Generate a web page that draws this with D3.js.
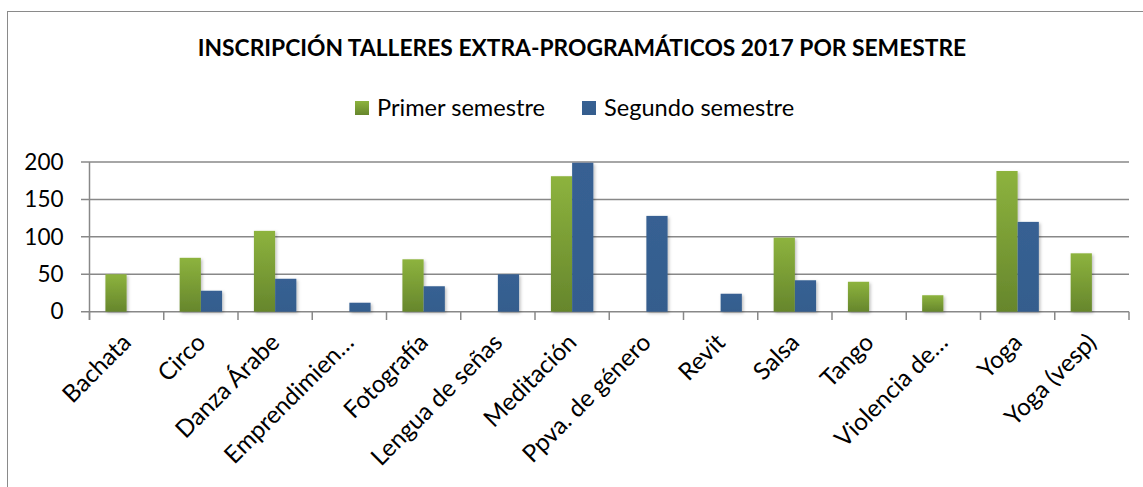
<!DOCTYPE html>
<html>
<head>
<meta charset="utf-8">
<script src="https://cdn.jsdelivr.net/npm/d3@7"></script>
<style>
    body { margin: 0; background: #fff; }
    text { font-family: Lato, "Open Sans", sans-serif; fill: #000; }
</style>
</head>
<body>
<script>
//chart data
var categories = ["Bachata", "Circo", "Danza Árabe", "Emprendimien…", "Fotografía",
    "Lengua de señas", "Meditación", "Ppva. de género", "Revit", "Salsa", "Tango",
    "Violencia de…", "Yoga", "Yoga (vesp)"];
var seriesNames = ["Primer semestre", "Segundo semestre"];
var primer = [50, 72, 108, 0, 70, 0, 181, 0, 0, 99, 40, 22, 188, 78];
var segundo = [0, 28, 44, 12, 34, 50, 199, 128, 24, 42, 0, 0, 120, 0];
var yTicks = [0, 50, 100, 150, 200];
var title = "INSCRIPCIÓN TALLERES EXTRA-PROGRAMÁTICOS 2017 POR SEMESTRE";

window.onload = setChart();

function setChart(){

    var width = 1143,
        height = 487;

    var svg = d3.select("body")
        .append("svg")
        .attr("width", width)
        .attr("height", height);

    var defs = svg.append("defs");

    //green gradient like the excel fill
    var gGreen = defs.append("linearGradient")
        .attr("id", "gradGreen")
        .attr("x1", 0).attr("y1", 0).attr("x2", 0).attr("y2", 1);
    gGreen.append("stop").attr("offset", "0%").attr("stop-color", "#8db33e");
    gGreen.append("stop").attr("offset", "100%").attr("stop-color", "#66862c");

    var gBlue = defs.append("linearGradient")
        .attr("id", "gradBlue")
        .attr("x1", 0).attr("y1", 0).attr("x2", 0).attr("y2", 1);
    gBlue.append("stop").attr("offset", "0%").attr("stop-color", "#376193");
    gBlue.append("stop").attr("offset", "100%").attr("stop-color", "#345d8d");

    var shadow = defs.append("filter")
        .attr("id", "shadow")
        .attr("x", "-20%").attr("y", "-20%")
        .attr("width", "150%").attr("height", "150%");
    shadow.append("feDropShadow")
        .attr("dx", 1.5).attr("dy", 1.5)
        .attr("stdDeviation", 1.5)
        .attr("flood-color", "#000")
        .attr("flood-opacity", 0.25);

    //outer frame
    svg.append("rect")
        .attr("x", 7.5)
        .attr("y", 11.5)
        .attr("width", 1150)
        .attr("height", 500)
        .attr("fill", "none")
        .attr("stroke", "#8a8a8a")
        .attr("stroke-width", 1);

    //title
    svg.append("text")
        .attr("x", 582)
        .attr("y", 56)
        .attr("text-anchor", "middle")
        .style("font-weight", "bold")
        .style("font-size", "22.8px")
        .text(title);

    //scales
    var x = d3.scaleBand()
        .domain(categories)
        .range([89.5, 1129])
        .paddingInner(0)
        .paddingOuter(0);

    var xSub = d3.scaleBand()
        .domain(seriesNames)
        .range([0, x.bandwidth()])
        .paddingInner(0)
        .paddingOuter(0.75);

    var y = d3.scaleLinear()
        .domain([0, 200])
        .range([311.7, 162]);

    //gridlines
    svg.append("g")
        .selectAll("line")
        .data(yTicks)
        .enter()
        .append("line")
        .attr("x1", 81)
        .attr("x2", 1129)
        .attr("y1", function(d){ return y(d); })
        .attr("y2", function(d){ return y(d); })
        .attr("stroke", "#888")
        .attr("stroke-width", 1.5);

    //y axis
    var yAxis = svg.append("g")
        .attr("transform", "translate(89.5,0)")
        .call(d3.axisLeft(y).tickValues(yTicks).tickSize(0).tickPadding(26));
    yAxis.select(".domain").remove();
    yAxis.selectAll("text")
        .style("font-size", "22.5px")
        .attr("fill", "#000");

    svg.append("line")
        .attr("x1", 89.5).attr("x2", 89.5)
        .attr("y1", y(200)).attr("y2", 320)
        .attr("stroke", "#888")
        .attr("stroke-width", 1.5);

    //x axis ticks at category boundaries
    var bounds = categories.map(function(c){ return x(c); }).concat([x.range()[1]]);
    svg.append("g")
        .selectAll("line")
        .data(bounds)
        .enter()
        .append("line")
        .attr("x1", function(d){ return d; })
        .attr("x2", function(d){ return d; })
        .attr("y1", y(0))
        .attr("y2", 320)
        .attr("stroke", "#888")
        .attr("stroke-width", 1.5);

    //bars
    var series = [
        {name: seriesNames[0], values: primer, fill: "url(#gradGreen)"},
        {name: seriesNames[1], values: segundo, fill: "url(#gradBlue)"}
    ];

    var bars = svg.append("g").attr("filter", "url(#shadow)");
    series.forEach(function(s){
        bars.selectAll(".bar-" + seriesNames.indexOf(s.name))
            .data(s.values.map(function(v, i){ return {cat: categories[i], value: v}; })
                .filter(function(d){ return d.value > 0; }))
            .enter()
            .append("rect")
            .attr("class", "bar-" + seriesNames.indexOf(s.name))
            .attr("x", function(d){ return x(d.cat) + xSub(s.name); })
            .attr("width", xSub.bandwidth())
            .attr("y", function(d){ return y(d.value); })
            .attr("height", function(d){ return y(0) - y(d.value); })
            .attr("fill", s.fill);
    });

    //x labels rotated
    svg.append("g")
        .selectAll("text")
        .data(categories)
        .enter()
        .append("text")
        .attr("transform", function(d){
            return "translate(" + (x(d) + x.bandwidth() / 2) + ",338) rotate(-45)";
        })
        .attr("text-anchor", "end")
        .attr("dy", "0.35em")
        .style("font-size", "24.2px")
        .text(function(d){ return d; });

    //legend
    var legendX = [355, 582];
    var legend = svg.append("g");
    series.forEach(function(s, i){
        legend.append("rect")
            .attr("x", legendX[i])
            .attr("y", 101)
            .attr("width", 14)
            .attr("height", 14)
            .attr("fill", s.fill);
        legend.append("text")
            .attr("x", legendX[i] + 22)
            .attr("y", 116)
            .style("font-size", "23.6px")
            .text(s.name);
    });
};
</script>
</body>
</html>
